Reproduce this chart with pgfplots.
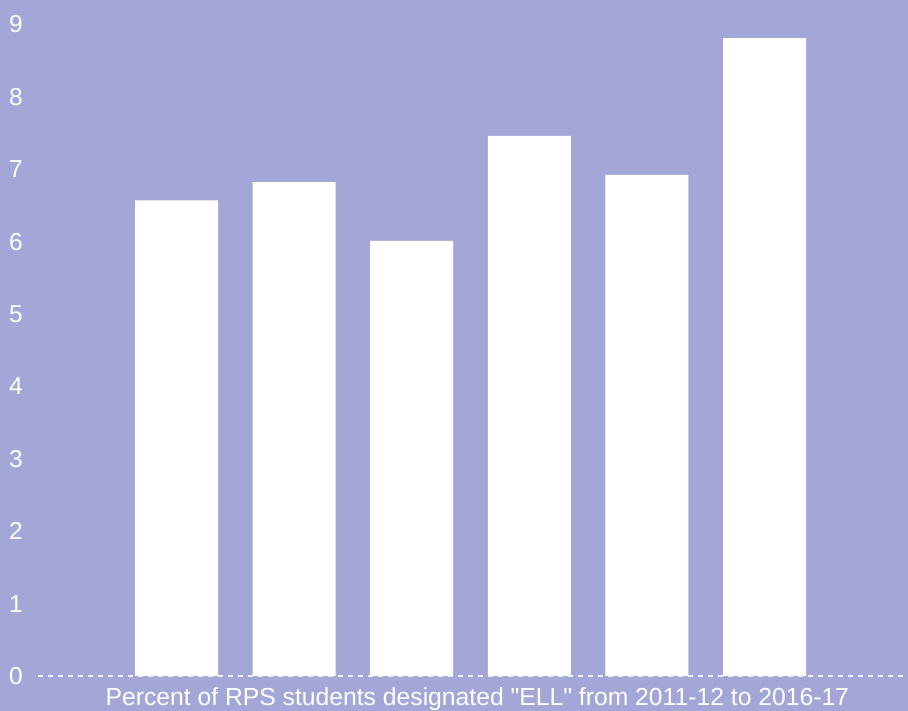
\documentclass[border=0pt]{standalone}
\usepackage{pgfplots}
\pgfplotsset{compat=1.18}
\usepackage{fontspec}
\setmainfont{Liberation Sans}[Ligatures=TeXOff]
\definecolor{bg}{HTML}{A3A7D7}
\begin{document}
\begin{tikzpicture}[x=1pt,y=1pt]
\fill[bg] (-38,-35) rectangle (870,676);
\begin{axis}[
  at={(0,0)}, anchor=south west,
  width=870pt, height=676pt, scale only axis,
  xmin=-1.178, xmax=6.22, ymin=0, ymax=9.337,
  axis line style={draw=none},
  major tick style={draw=none},
  xtick=\empty,
  ytick={0,1,...,9},
  /pgf/number format/assume math mode=true,
  yticklabel style={text=white, font=\fontsize{24.5}{28}\selectfont, anchor=east, inner sep=0pt, xshift=-15pt},
  ybar, bar width=83pt,
  clip=false,
]
\addplot[fill=white, draw=none, bar shift=0pt] coordinates {
  (0,6.57) (1,6.82) (2,6.01) (3,7.46) (4,6.92) (5,8.81)
};
\draw[white!85!bg, line width=1.5pt, dash pattern=on 5pt off 5pt] (rel axis cs:0,0) -- (rel axis cs:1,0);
\node[text=white, font=\fontsize{24.7}{28}\selectfont, anchor=base] at (rel axis cs:0.505,0) [yshift=-30pt]
  {Percent of RPS students designated "ELL" from 2011-12 to 2016-17};
\end{axis}
\pgfresetboundingbox
\path (-38,-35) rectangle (870,676);
\end{tikzpicture}
\end{document}
